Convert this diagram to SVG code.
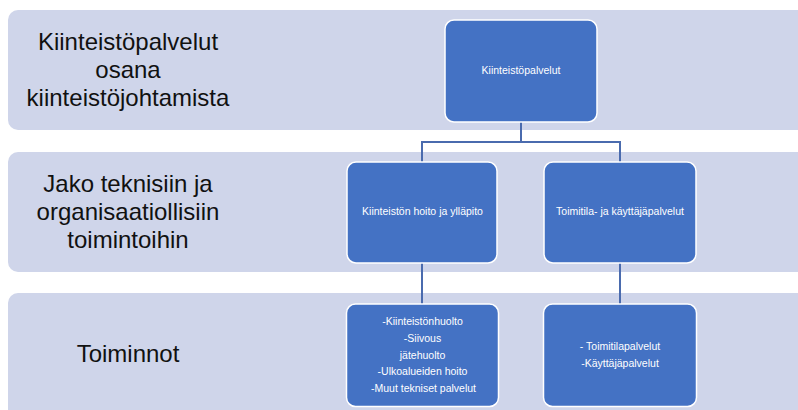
<svg xmlns="http://www.w3.org/2000/svg" width="798" height="410" viewBox="0 0 798 410">
<style>
.band{fill:#CFD5EA;}
.lbl{font-family:"Liberation Sans",Arial,sans-serif;font-size:24px;fill:#111;text-anchor:middle;}
.node{fill:#4472C4;stroke:#FFFFFF;stroke-width:1.5;}
.nt{font-family:"Liberation Sans",Arial,sans-serif;font-size:10.5px;fill:#FFFFFF;text-anchor:middle;}
.conn{fill:none;stroke:#4A6BAE;stroke-width:2;}
</style>
<rect width="798" height="410" fill="#FFFFFF"/>
<g id="band1">
<rect class="band" x="8" y="10" width="810" height="120" rx="10"/>
<text class="lbl" x="128" y="50">Kiinteistöpalvelut</text>
<text class="lbl" x="128" y="78">osana</text>
<text class="lbl" x="128" y="106">kiinteistöjohtamista</text>
</g>
<g id="band2">
<rect class="band" x="8" y="152" width="810" height="120" rx="10"/>
<text class="lbl" x="128" y="192">Jako teknisiin ja</text>
<text class="lbl" x="128" y="220">organisaatiollisiin</text>
<text class="lbl" x="128" y="248">toimintoihin</text>
</g>
<g id="band3">
<rect class="band" x="8" y="293" width="810" height="130" rx="10"/>
<text class="lbl" x="128" y="362">Toiminnot</text>
</g>
<g id="connectors">
<path class="conn" d="M521,122 V142 M422,142 H620 M422,141 V162 M620,141 V162"/>
<path class="conn" d="M422,263 V304"/>
<path class="conn" d="M620,263 V304"/>
</g>
<g id="n-root">
<rect class="node" x="445" y="20" width="152" height="102" rx="9"/>
<text class="nt" x="521" y="74">Kiinteistöpalvelut</text>
</g>
<g id="n-hoito">
<rect class="node" x="347" y="162" width="150" height="101" rx="9"/>
<text class="nt" x="422.5" y="215">Kiinteistön hoito ja ylläpito</text>
</g>
<g id="n-toimitila">
<rect class="node" x="544" y="162" width="152" height="101" rx="9"/>
<text class="nt" x="620" y="215">Toimitila- ja käyttäjäpalvelut</text>
</g>
<g id="n-tekniset">
<rect class="node" x="346.5" y="304" width="152" height="102.5" rx="9"/>
<text class="nt" x="422.5" y="325">-Kiinteistönhuolto</text>
<text class="nt" x="422.5" y="342">-Siivous</text>
<text class="nt" x="422.5" y="358.5">jätehuolto</text>
<text class="nt" x="422.5" y="375">-Ulkoalueiden hoito</text>
<text class="nt" x="423.5" y="392">-Muut tekniset palvelut</text>
</g>
<g id="n-kayttaja">
<rect class="node" x="543.5" y="304" width="153" height="102.5" rx="9"/>
<text class="nt" x="620" y="350">- Toimitilapalvelut</text>
<text class="nt" x="620" y="367">-Käyttäjäpalvelut</text>
</g>
</svg>
